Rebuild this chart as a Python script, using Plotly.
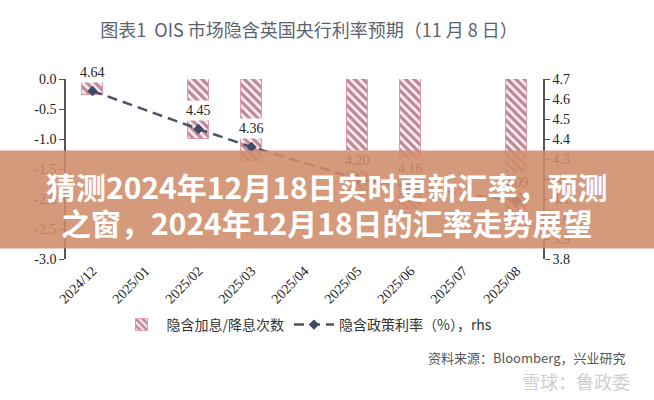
import plotly.graph_objects as go

# ---------------- data ----------------
months = ["2024/12", "2025/01", "2025/02", "2025/03", "2025/04",
          "2025/05", "2025/06", "2025/07", "2025/08"]
implied_moves = [-0.27, None, -1.00, -1.37, None, -2.00, -2.17, None, -2.45]
implied_rate = [4.64, None, 4.45, 4.36, None, 4.20, 4.16, None, 4.09]
left_ticks = [0.0, -0.5, -1.0, -1.5, -2.0, -2.5, -3.0]
right_ticks = [4.7, 4.6, 4.5, 4.4, 4.3, 4.2, 4.1, 4.0, 3.9, 3.8]

title_text = "图表1  OIS 市场隐含英国央行利率预期（11 月 8 日）"
banner_line1 = "猜测2024年12月18日实时更新汇率，预测"
banner_line2 = "之窗，2024年12月18日的汇率走势展望"
bar_name = "隐含加息/降息次数"
line_name = "隐含政策利率（%），rhs"
source_text = "资料来源：Bloomberg，兴业研究"
watermark_text = "雪球：鲁政委"

# ---------------- layout constants ----------------
W, H = 654, 400
L, R, T, B = 66, 111, 79, 141
PW, PH = W - L - R, H - T - B

def px_x(x):
    return (x - L) / PW

def px_y(y):
    return 1 - (y - T) / PH

serif = "Liberation Serif"
cjk = "Noto Sans CJK SC"

fig = go.Figure()

fig.add_trace(go.Bar(
    x=months, y=implied_moves, name=bar_name, width=0.4,
    marker=dict(color="white",
                line=dict(color="#e29aa8", width=1),
                pattern=dict(shape="\\", fgcolor="#7e1d3a", bgcolor="#fdf1f4",
                             size=6, solidity=0.55)),
    xaxis="x", yaxis="y",
))

fig.add_trace(go.Scatter(
    x=months, y=implied_rate, name=line_name, mode="lines+markers",
    connectgaps=True,
    line=dict(color="#4a5468", width=2.5, dash="10px,6px"),
    marker=dict(symbol="diamond", size=8, color="#3d4a68"),
    xaxis="x", yaxis="y2",
))

annotations = []
for m, r in zip(months, implied_rate):
    if r is None:
        continue
    annotations.append(dict(
        x=m, y=r, xref="x", yref="y2", yshift=19, showarrow=False,
        text=f"{r:.2f}", font=dict(family=serif, size=14, color="#222"),
        bgcolor="white", borderpad=2,
    ))

# source and watermark
annotations.append(dict(
    x=px_x(628), y=px_y(357), xref="paper", yref="paper",
    xanchor="right", yanchor="middle", showarrow=False,
    text=source_text, font=dict(family=cjk, size=13, color="#555")))
annotations.append(dict(
    x=px_x(632), y=px_y(381), xref="paper", yref="paper",
    xanchor="right", yanchor="middle", showarrow=False,
    text=watermark_text, font=dict(family=cjk, size=18, color="#cfcfcf")))

# banner (box, then text lines) - drawn last so it lies on top
banner_top, banner_bot = 151, 248
annotations.append(dict(
    x=px_x(W / 2), y=px_y((banner_top + banner_bot) / 2),
    xref="paper", yref="paper", xanchor="center", yanchor="middle",
    showarrow=False, text=" ", width=W, height=banner_bot - banner_top,
    bgcolor="rgba(207,140,106,0.88)", borderpad=0,
    font=dict(size=10)))
for txt, yc in ((banner_line1, 186), (banner_line2, 222)):
    annotations.append(dict(
        x=px_x(W / 2), y=px_y(yc), xref="paper", yref="paper",
        xanchor="center", yanchor="middle", showarrow=False, text=f"<b>{txt}</b>",
        font=dict(family=cjk, size=30, color="white")))

fig.update_layout(
    width=W, height=H,
    margin=dict(l=L, r=R, t=T, b=B),
    paper_bgcolor="white", plot_bgcolor="white",
    title=dict(text=title_text, x=309 / W, xanchor="center",
               y=1 - 31 / H, yanchor="middle",
               font=dict(family=cjk, size=18, color="#5b6270")),
    showlegend=True,
    legend=dict(orientation="h", x=px_x(307), xref="paper",
                y=px_y(325), yref="paper",
                xanchor="center", yanchor="middle",
                font=dict(family=cjk, size=14, color="#333"),
                itemwidth=40, tracegroupgap=0, bgcolor="rgba(0,0,0,0)"),
    bargap=0,
    xaxis=dict(type="category", categoryorder="array", categoryarray=months,
               range=[-0.5, len(months) - 0.5], showline=False, ticks="",
               tickangle=-45, showgrid=False, zeroline=False, automargin=False,
               tickfont=dict(family=serif, size=14, color="#222")),
    xaxis2=dict(overlaying="x", side="top", anchor="y",
                range=[-0.5, len(months) - 0.5],
                tickvals=[i - 0.5 for i in range(1, len(months))],
                ticks="inside", ticklen=5, tickcolor="#333",
                showticklabels=False, showline=True, linecolor="#333",
                linewidth=1, showgrid=False, zeroline=False),
    yaxis=dict(range=[-3, 0], tickvals=left_ticks,
               ticktext=[f"{v:.1f}" for v in left_ticks],
               ticks="outside", ticklen=5, tickcolor="#555",
               showline=True, linecolor="#555", linewidth=1.5,
               showgrid=False, zeroline=False, automargin=False,
               tickfont=dict(family=serif, size=14, color="#222")),
    yaxis2=dict(range=[3.8, 4.7], overlaying="y", side="right",
                tickvals=right_ticks,
                ticktext=[f"{v:.1f}" for v in right_ticks],
                ticks="outside", ticklen=5, tickcolor="#555",
                showline=True, linecolor="#555", linewidth=1.5,
                showgrid=False, zeroline=False, automargin=False,
                tickfont=dict(family=serif, size=14, color="#222")),
    annotations=annotations,
)

fig.write_html("out.html", config={"displayModeBar": False},
               post_script="document.body.style.margin='0';document.body.style.padding='0';")
